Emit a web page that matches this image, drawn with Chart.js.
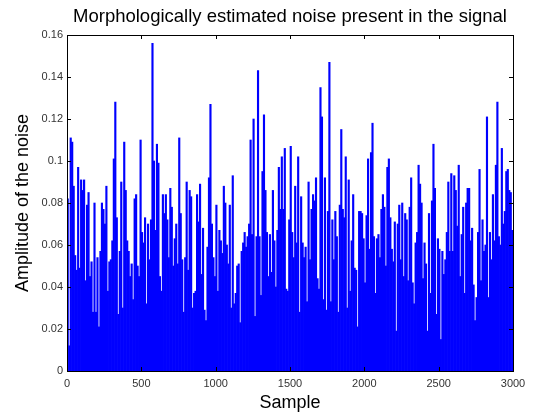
<!DOCTYPE html>
<html>
<head>
<meta charset="utf-8">
<script src="https://cdn.jsdelivr.net/npm/chart.js@4.4.0/dist/chart.umd.min.js"></script>
<style>
  html, body { margin: 0; padding: 0; background: #fff; }
  #chart { display: block; }
</style>
</head>
<body>
<canvas id="chart" width="533" height="414"></canvas>
<script>
// one bar per 10 samples, heights
const sampleStep = 10;

// samples 0 - 579
const noiseA = [
  0.082, 0.012, 0.111, 0.109, 0.088, 0.055, 0.048, 0.097, 0.049, 0.091,
  0.086, 0.091, 0.043, 0.079, 0.085, 0.045, 0.052, 0.028, 0.080, 0.028,
  0.054, 0.021, 0.057, 0.080, 0.077, 0.070, 0.088, 0.038, 0.052, 0.053,
  0.062, 0.101, 0.128, 0.073, 0.027, 0.057, 0.090, 0.030, 0.109, 0.086,
  0.062, 0.057, 0.045, 0.051, 0.034, 0.082, 0.084, 0.050, 0.045, 0.110,
  0.066, 0.061, 0.073, 0.032, 0.070, 0.053, 0.072, 0.156
];
// samples 580 - 1199
const noiseB = [
  0.100, 0.067, 0.108, 0.099, 0.045, 0.038, 0.084, 0.075, 0.084, 0.072,
  0.054, 0.087, 0.078, 0.050, 0.063, 0.070, 0.051, 0.111, 0.075, 0.053,
  0.028, 0.054, 0.090, 0.048, 0.086, 0.083, 0.030, 0.037, 0.038, 0.084,
  0.071, 0.089, 0.046, 0.068, 0.029, 0.024, 0.059, 0.092, 0.127, 0.070,
  0.054, 0.045, 0.079, 0.038, 0.067, 0.062, 0.056, 0.088, 0.080, 0.060,
  0.051, 0.079, 0.030, 0.093, 0.032, 0.037, 0.050, 0.051, 0.023, 0.057,
  0.061, 0.066
];
// samples 1200 - 1799
const noiseC = [
  0.059, 0.064, 0.070, 0.110, 0.065, 0.120, 0.026, 0.064, 0.143, 0.064,
  0.036, 0.095, 0.122, 0.086, 0.066, 0.045, 0.065, 0.047, 0.086, 0.062,
  0.040, 0.067, 0.097, 0.077, 0.102, 0.077, 0.106, 0.039, 0.038, 0.072,
  0.107, 0.066, 0.054, 0.088, 0.061, 0.102, 0.028, 0.083, 0.061, 0.054,
  0.059, 0.033, 0.090, 0.053, 0.077, 0.084, 0.081, 0.092, 0.044, 0.039,
  0.135, 0.121, 0.034, 0.092, 0.029, 0.076, 0.147, 0.033, 0.072, 0.053
];
// samples 1800 - 2399
const noiseD = [
  0.076, 0.064, 0.028, 0.079, 0.115, 0.077, 0.073, 0.102, 0.030, 0.091,
  0.038, 0.062, 0.084, 0.049, 0.048, 0.021, 0.076, 0.076, 0.075, 0.063,
  0.042, 0.074, 0.101, 0.058, 0.104, 0.118, 0.064, 0.037, 0.063, 0.065,
  0.054, 0.077, 0.084, 0.078, 0.050, 0.097, 0.101, 0.073, 0.058, 0.052,
  0.071, 0.019, 0.070, 0.079, 0.053, 0.080, 0.045, 0.075, 0.072, 0.043,
  0.078, 0.092, 0.042, 0.032, 0.061, 0.066, 0.098, 0.089, 0.080, 0.044
];
// samples 2400 - 2999
const noiseE = [
  0.061, 0.051, 0.019, 0.075, 0.037, 0.081, 0.108, 0.087, 0.027, 0.063,
  0.058, 0.015, 0.057, 0.046, 0.053, 0.066, 0.090, 0.057, 0.094, 0.057,
  0.093, 0.086, 0.069, 0.098, 0.045, 0.065, 0.078, 0.037, 0.080, 0.087,
  0.087, 0.062, 0.068, 0.041, 0.024, 0.035, 0.066, 0.096, 0.043, 0.072,
  0.057, 0.060, 0.121, 0.035, 0.066, 0.053, 0.084, 0.062, 0.098, 0.128,
  0.064, 0.060, 0.106, 0.070, 0.076, 0.095, 0.096, 0.086, 0.085, 0.067
];

const noise = noiseA.concat(noiseB, noiseC, noiseD, noiseE);
const xTicks = [0, 500, 1000, 1500, 2000, 2500, 3000];
const yTicks = [0, 0.02, 0.04, 0.06, 0.08, 0.1, 0.12, 0.14, 0.16];
const chartTitle = 'Morphologically estimated noise present in the signal';

const FONT = "'Liberation Sans', Arial, Helvetica, sans-serif";

// matlab style: closed box, small ticks pointing inwards on all sides,
// title centred over the axes rather than the canvas
const matlabBox = {
  id: 'matlabBox',
  afterDatasetsDraw(chart) {
    const { ctx, chartArea: a, scales: { x, y } } = chart;
    ctx.save();
    ctx.strokeStyle = '#000';
    ctx.lineWidth = 1;
    ctx.beginPath();
    xTicks.forEach(v => {
      const px = Math.round(x.getPixelForValue(v)) + 0.5;
      ctx.moveTo(px, a.bottom); ctx.lineTo(px, a.bottom - 4);
      ctx.moveTo(px, a.top); ctx.lineTo(px, a.top + 4);
    });
    yTicks.forEach(v => {
      const py = Math.round(y.getPixelForValue(v)) + 0.5;
      ctx.moveTo(a.left, py); ctx.lineTo(a.left + 4, py);
      ctx.moveTo(a.right, py); ctx.lineTo(a.right - 4, py);
    });
    ctx.stroke();
    ctx.strokeRect(Math.round(a.left) + 0.5, Math.round(a.top) + 0.5,
      Math.round(a.right - a.left), Math.round(a.bottom - a.top));

    ctx.fillStyle = '#000';
    ctx.font = '18.5px ' + FONT;
    ctx.textAlign = 'center';
    ctx.textBaseline = 'middle';
    ctx.fillText(chartTitle, (a.left + a.right) / 2, 17);
    ctx.restore();
  }
};

new Chart(document.getElementById('chart'), {
  type: 'bar',
  data: {
    datasets: [{
      data: noise.map((v, i) => ({ x: i * sampleStep + sampleStep / 2, y: v })),
      backgroundColor: '#0000ff',
      borderWidth: 0,
      barPercentage: 1,
      categoryPercentage: 1
    }]
  },
  options: {
    responsive: false,
    animation: false,
    layout: { padding: { left: 0, right: 20, top: 35, bottom: 0 } },
    plugins: {
      legend: { display: false },
      tooltip: { enabled: false },
      title: { display: false }
    },
    scales: {
      x: {
        type: 'linear',
        offset: false,
        min: 0,
        max: 3000,
        afterBuildTicks: s => { s.ticks = xTicks.map(v => ({ value: v })); },
        afterFit: s => { s.height = 43; },
        grid: { display: false, drawTicks: false },
        border: { display: false },
        ticks: {
          color: '#333',
          padding: 6,
          maxRotation: 0,
          font: { family: FONT, size: 11 },
          callback: v => String(v)
        },
        title: {
          display: true,
          text: 'Sample',
          color: '#000',
          font: { family: FONT, size: 18, lineHeight: 1.2 },
          padding: { top: 0, bottom: 0 }
        }
      },
      y: {
        min: 0,
        max: 0.16,
        afterBuildTicks: s => { s.ticks = yTicks.map(v => ({ value: v })); },
        afterFit: s => { s.width = 67; },
        grid: { display: false, drawTicks: false },
        border: { display: false },
        ticks: {
          color: '#333',
          padding: 4,
          font: { family: FONT, size: 11 },
          callback: v => String(+v.toFixed(2))
        },
        title: {
          display: true,
          text: 'Amplitude of the noise',
          color: '#000',
          font: { family: FONT, size: 18, lineHeight: 1.2 },
          padding: { top: 12, bottom: 0 }
        }
      }
    }
  },
  plugins: [matlabBox]
});
</script>
</body>
</html>
